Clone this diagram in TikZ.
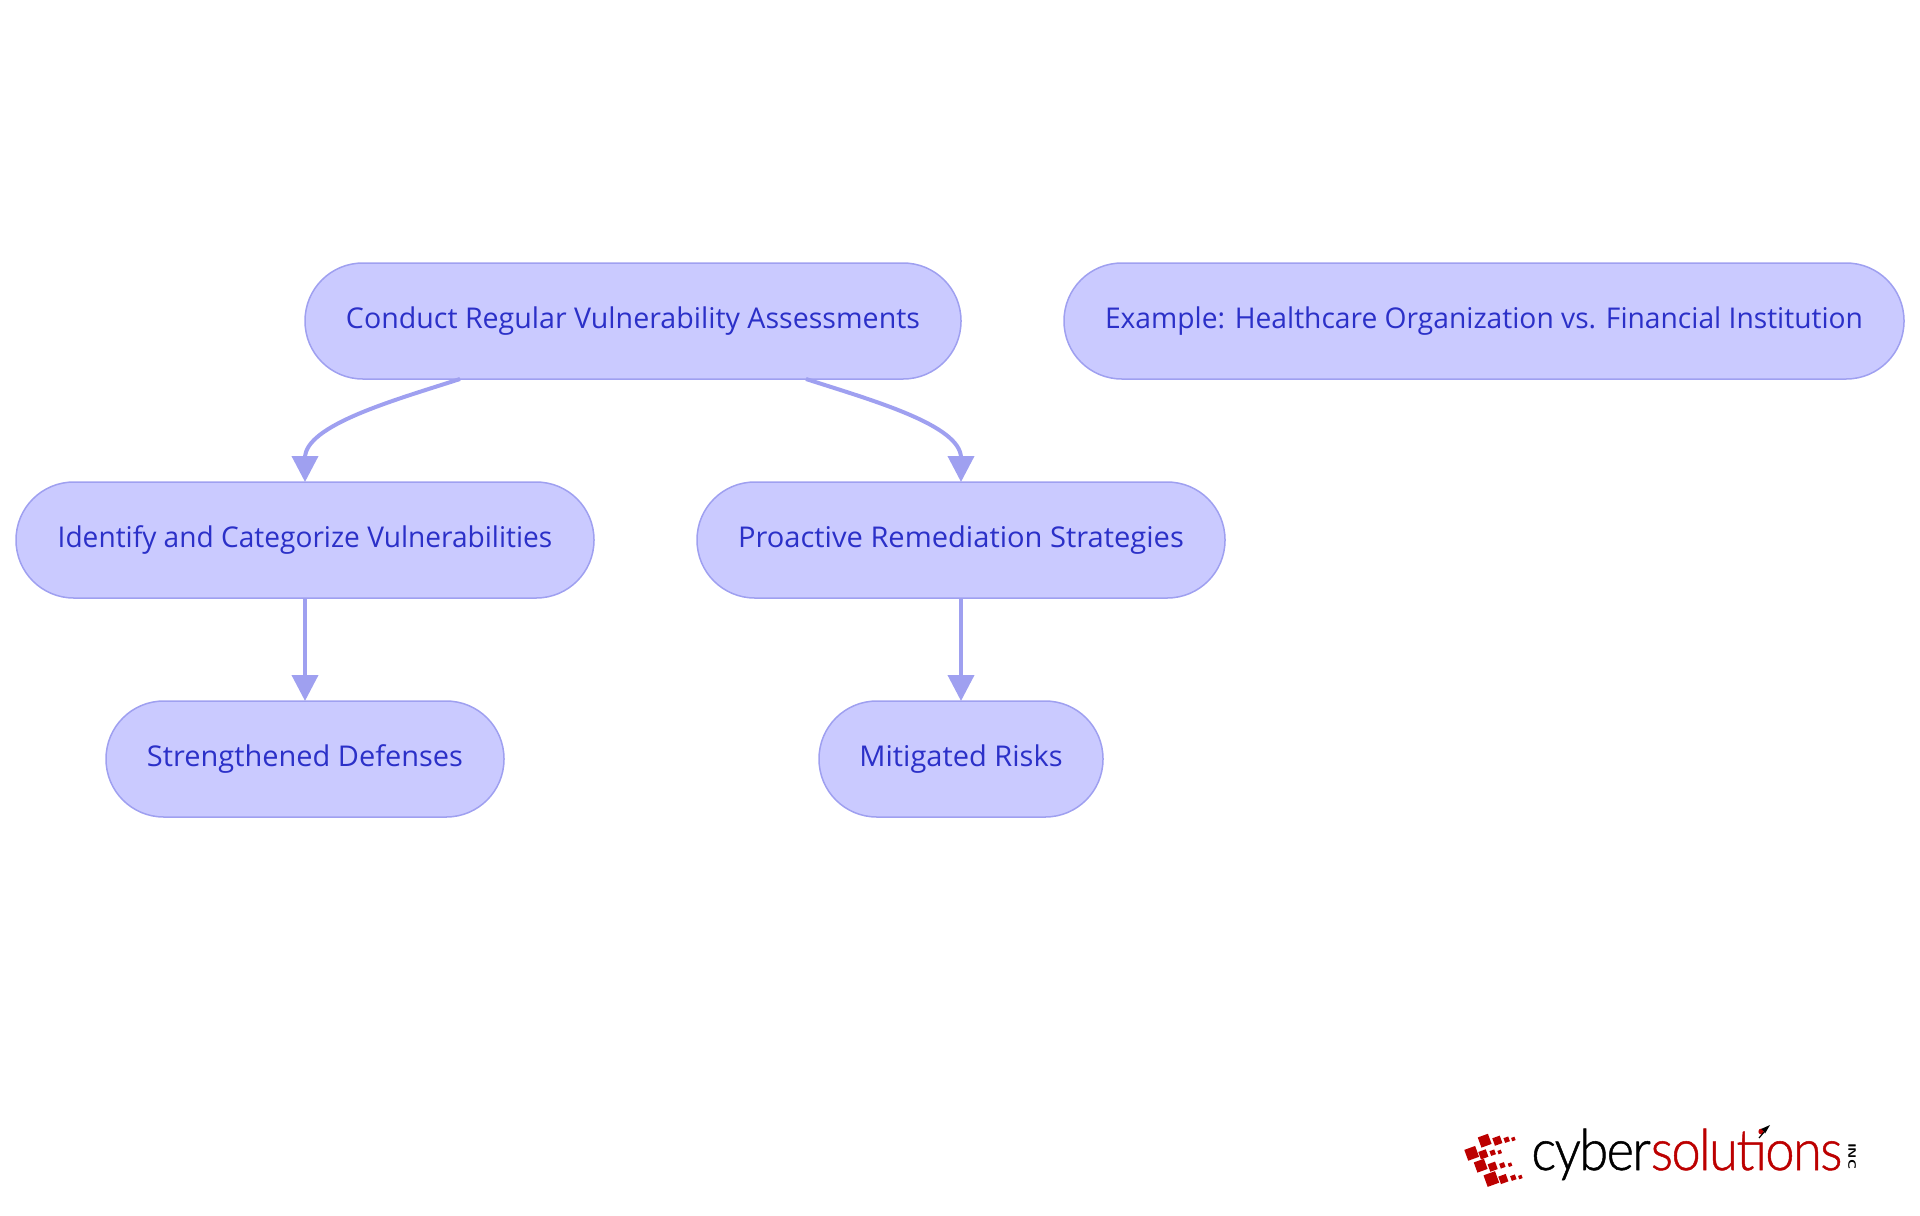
\documentclass[tikz,border=0pt]{standalone}
\usepackage{fontspec}
\setmainfont{Open Sans}
\newfontfamily\logofont[FakeBold=0.9]{Lato Light}
\usetikzlibrary{arrows.meta,calc}
\definecolor{nodefill}{HTML}{CACAFF}
\definecolor{nodeline}{HTML}{9FA0F0}
\definecolor{nodetext}{HTML}{2B30C8}
\definecolor{logored}{HTML}{BC0000}
\newcommand\fitw[2]{\raisebox{-0.9pt}{\resizebox{#1pt}{\height}{#2}}}
\tikzset{
  flowbox/.style={draw=nodeline,fill=nodefill,text=nodetext,line width=0.75pt,rounded corners=28.9pt,
    minimum height=58pt,inner sep=0pt,outer sep=0pt,anchor=center,font=\fontsize{14.3}{16}\selectfont},
  flowline/.style={draw=nodeline,line width=2pt,-{Triangle[length=13pt,width=13pt]}},
}
\begin{document}
\begin{tikzpicture}[x=0.5pt,y=-0.5pt]
\useasboundingbox (0,0) rectangle (1920,1215);
\node[flowbox,minimum width=328pt] (assess) at (633,321) {\fitw{287}{Conduct Regular Vulnerability Assessments}};
\node[flowbox,minimum width=420pt] (example) at (1484,321) {\fitw{379}{Example: Healthcare Organization vs. Financial Institution}};
\node[flowbox,minimum width=289pt] (identify) at (305,540) {\fitw{247.3}{Identify and Categorize Vulnerabilities}};
\node[flowbox,minimum width=264pt] (proactive) at (961,540) {\fitw{222.9}{Proactive Remediation Strategies}};
\node[flowbox,minimum width=199pt] (defenses) at (305,759) {\fitw{158}{Strengthened Defenses}};
\node[flowbox,minimum width=142pt] (risks) at (961,759) {\fitw{101.6}{Mitigated Risks}};
\coordinate (assessL) at ($(assess.south)+(-173,0)$);
\coordinate (assessR) at ($(assess.south)+(173,0)$);
\draw[flowline] (assessL) .. controls (395,400) and (305,425) .. (305,458) -- (identify.north);
\draw[flowline] (assessR) .. controls (871,400) and (961,425) .. (961,458) -- (proactive.north);
\draw[flowline] (identify) -- (defenses);
\draw[flowline] (proactive) -- (risks);
% logo
\foreach \zx/\zy/\s in {134/122/15,172/122/11,200/119/7,220/117/5,
  95/160/16,130/163/11,158/158/7,179/156/5,
  122/197/15,158/200/11,187/196/7,210/194/5,
  154/237/17,190/237/11,220/233/7,241/231/5}{
  \fill[logored,rotate around={20:({1440+\zx/3},{1100+\zy/3})}]
    ({1440+\zx/3-\s/2*0.72},{1100+\zy/3-\s/2*0.72}) rectangle ({1440+\zx/3+\s/2*0.72},{1100+\zy/3+\s/2*0.72});
}
\node[anchor=base west,inner sep=0pt,font=\logofont\fontsize{28.5}{30}\selectfont] (logotext) at (1531,1170)
  {\resizebox{155.5pt}{\height}{\addfontfeatures{LetterSpace=-3}\textcolor{black}{cyber}\textcolor{logored}{solutions}}};
\node[anchor=center,inner sep=0pt,rotate=-90,font=\sffamily\bfseries\fontsize{5.4}{6}\selectfont] (logoinc) at (1852,1156) {\resizebox{13pt}{\height}{INC}};
\draw[line width=0.6pt] (1764,1132) -- (1759,1138);
\fill (1770,1125) -- (1761,1129) -- (1763.5,1131) -- (1765,1133.5) -- cycle;
\end{tikzpicture}
\end{document}
